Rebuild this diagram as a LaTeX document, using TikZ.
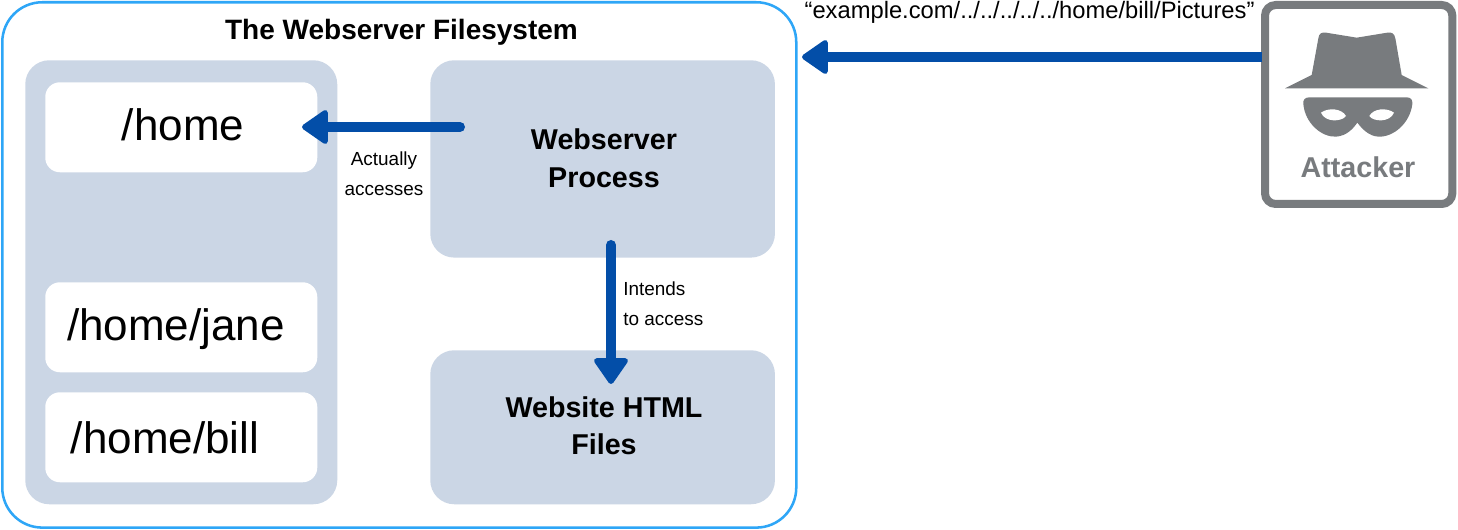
\documentclass[tikz,border=0pt]{standalone}
\usepackage{fontspec}
\setmainfont{Liberation Sans}
\usetikzlibrary{arrows.meta}
\definecolor{panel}{HTML}{CBD6E5}
\definecolor{frameblue}{HTML}{2EA6F7}
\definecolor{arrowblue}{HTML}{034EA8}
\definecolor{attgray}{HTML}{787B7E}
\newcommand{\fs}[1]{\fontsize{#1}{#1}\selectfont}
\tikzset{
  px/.style={x=0.75pt,y=-0.75pt},
  panelbox/.style={fill=panel,rounded corners=18pt,inner sep=0pt,anchor=north west},
  dirbox/.style={fill=white,rounded corners=11pt,inner sep=0pt,anchor=north west,minimum width=204pt,minimum height=67.5pt},
  dirtext/.style={inner sep=0pt,anchor=base},
  conn/.style={draw=arrowblue,line width=7.5pt,line cap=round,-{Triangle[length=21pt,width=28pt,line width=4pt,round]}},
  small/.style={inner sep=0pt,anchor=base,font=\fs{14.2}},
  title/.style={inner sep=0pt,anchor=base,font=\fs{21.5}\bfseries,align=center},
}
\begin{document}
\begin{tikzpicture}[px]
\useasboundingbox (0,0) rectangle (1458,530);
\fill[white] (0,0) rectangle (1458,530);
% outer frame
\node[draw=frameblue,line width=1.9pt,rounded corners=30pt,inner sep=0pt,anchor=north west,minimum width=595.5pt,minimum height=394pt] (fs) at (1,1) {};
\node[title,font=\fs{21}\bfseries] (fstitle) at (401.5,40) {The Webserver Filesystem};
% left panel
\node[panelbox,minimum width=234pt,minimum height=333pt] (left) at (25,60) {};
\node[dirbox] (home) at (45,82) {};
\node[dirbox] (jane) at (45,282) {};
\node[dirbox] (bill) at (45,392) {};
\node[dirtext,font=\fs{33}] (hometxt) at (183,141) {/home};
\node[dirtext,font=\fs{33}] (janetxt) at (176,341) {/home/jane};
\node[dirtext,font=\fs{33}] (billtxt) at (165,453) {/home/bill};
% right panels
\node[panelbox,minimum width=258.5pt,minimum height=148pt] (proc) at (430,60) {};
\node[panelbox,minimum width=258.5pt,minimum height=115.5pt] (html) at (430,350) {};
\node[title] (proctxt1) at (604,150) {Webserver};
\node[title] (proctxt2) at (604,188) {Process};
\node[title] (htmltxt1) at (604,417) {Website HTML};
\node[title] (htmltxt2) at (604,454) {Files};
% labels
\node[small] (act1) at (384,166) {Actually};
\node[small] (act2) at (384,196) {accesses};
\node[inner sep=0pt,anchor=base west,font=\fs{14.2}] (int1b) at (623,296) {Intends};
\node[inner sep=0pt,anchor=base west,font=\fs{14.2}] (int2b) at (623,326) {to access};
\node[inner sep=0pt,anchor=base,font=\fs{17.8}] (url) at (1029.5,19) {“example.com/../../../../../home/bill/Pictures”};
% attacker
\node[draw=attgray,line width=6pt,rounded corners=8pt,inner sep=0pt,anchor=north west,minimum width=140.5pt,minimum height=149.25pt] (att) at (1261,1) {};
\begin{scope}[shift={(1250,0)},x=0.25pt,y=-0.25pt]
  \fill[attgray,line join=round] (105,265) -- (185,225) -- (205,115) .. controls (207,100) and (215,96) .. (228,98) -- (320,113) -- (412,98) .. controls (425,96) and (433,100) .. (436,115) -- (455,225) -- (535,265) -- cycle;
  \fill[attgray] (178,292) -- (470,292) .. controls (483,292) and (488,300) .. (487,312) .. controls (480,370) and (430,412) .. (385,410) .. controls (355,408) and (335,385) .. (322,368) .. controls (310,385) and (290,408) .. (258,410) .. controls (215,412) and (165,370) .. (160,312) .. controls (158,300) and (165,292) .. (178,292) -- cycle;
  \fill[white] (213,338) .. controls (235,322) and (275,325) .. (288,348) .. controls (275,366) and (225,368) .. (213,338) -- cycle;
  \fill[white] (432,338) .. controls (410,322) and (370,325) .. (358,348) .. controls (370,366) and (420,368) .. (432,338) -- cycle;
\end{scope}
\node[inner sep=0pt,anchor=base,font=\fs{21.5}\bfseries,text=attgray] (atttxt) at (1358,178) {Attacker};
% connectors
\coordinate (homeEnd) at (302,127);
\coordinate (procL) at (460,127);
\coordinate (procB) at (611,245);
\coordinate (htmlT) at (611,384);
\coordinate (attL) at (1262,57);
\coordinate (fsR) at (802,57);
\draw[conn] (procL) -- (homeEnd);
\draw[conn] (procB) -- (htmlT);
\draw[conn,line cap=butt] (attL) -- (fsR);
\end{tikzpicture}
\end{document}
